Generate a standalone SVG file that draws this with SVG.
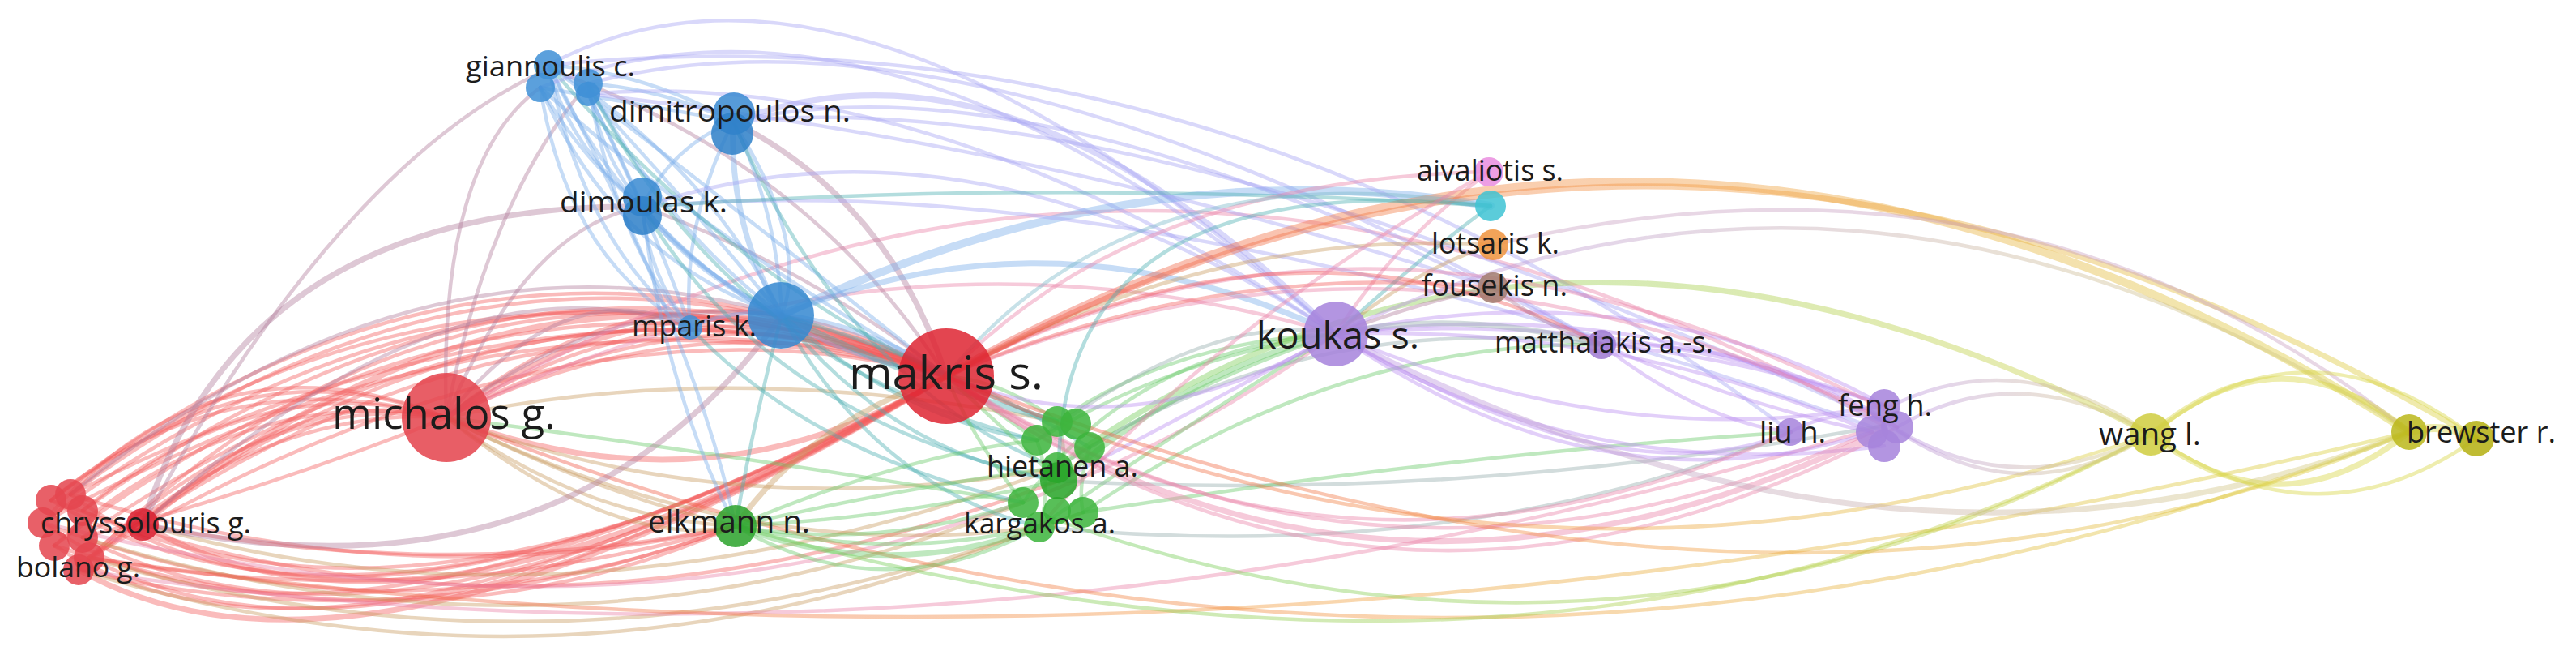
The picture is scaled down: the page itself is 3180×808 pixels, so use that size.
<svg xmlns="http://www.w3.org/2000/svg" width="3180" height="808" viewBox="0 0 3180 808">
<style>
.e{fill:none;stroke-linecap:round;stroke-opacity:.42;stroke-width:4.5}
.w3{stroke-width:7}.w4{stroke-width:10}
.r{stroke:#f25c5c}.b{stroke:#78acea}.g{stroke:#66c866}.p{stroke:#b98cf0}.y{stroke:#d6d43e}
.m{stroke:#b07c9c}.t{stroke:#4aaeb0}.o{stroke:#c89a60}.k{stroke:#ea80a8}.l{stroke:#a4a2f2}.gp{stroke:#94acac}
.n circle{fill-opacity:.86}
.lab{font-family:"Open Sans","DejaVu Sans",sans-serif;fill:#1c1c1c}
</style>
<defs>
<linearGradient id="gRY"><stop offset="0" stop-color="#f0504a"/><stop offset=".5" stop-color="#f29a3e"/><stop offset="1" stop-color="#d8d23a"/></linearGradient>
<linearGradient id="gGY"><stop offset="0" stop-color="#6acc58"/><stop offset="1" stop-color="#cfd040"/></linearGradient>
<linearGradient id="gPY"><stop offset="0" stop-color="#b88ee8"/><stop offset="1" stop-color="#d6cf70"/></linearGradient>
</defs>
<g id="connectors">
<path class="e r" d="M63 617Q600 200 1168 464"/>
<path class="e r" d="M87 610Q620 215 1168 464"/>
<path class="e r" d="M102 630Q650 235 1168 464"/>
<path class="e r" d="M53 645Q590 240 1168 464"/>
<path class="e r" d="M67 673Q610 265 1168 464"/>
<path class="e r" d="M102 663Q660 285 1168 464"/>
<path class="e r" d="M110 688Q640 305 1168 464"/>
<path class="e r" d="M97 703Q620 275 1168 464"/>
<path class="e r w3" d="M176 647Q660 250 1168 464"/>
<path class="e r" d="M63 617Q560 250 1168 464"/>
<path class="e r" d="M87 610Q700 300 1168 464"/>
<path class="e r" d="M53 645Q630 320 1168 464"/>
<path class="e r" d="M110 688Q700 340 1168 464"/>
<path class="e r" d="M97 703Q560 230 1168 464"/>
<path class="e r" d="M63 617Q280 440 551 515"/>
<path class="e r" d="M87 610Q300 420 551 515"/>
<path class="e r" d="M102 630Q320 450 551 515"/>
<path class="e r" d="M67 673Q300 470 551 515"/>
<path class="e r" d="M176 647Q360 470 551 515"/>
<path class="e r" d="M110 688Q330 480 551 515"/>
<path class="e r" d="M53 645Q260 400 551 515"/>
<path class="e r" d="M97 703Q320 500 551 515"/>
<path class="e r" d="M102 663Q340 600 551 515"/>
<path class="e m" d="M87 610Q520 260 965 389"/>
<path class="e m" d="M176 647Q560 300 852 404"/>
<path class="e m w3" d="M176 647Q300 250 793 255"/>
<path class="e m" d="M176 647Q420 200 677 85"/>
<path class="e r w3" d="M97 703Q450 900 1168 464"/>
<path class="e r" d="M110 688Q480 885 1168 464"/>
<path class="e r" d="M67 673Q420 900 1168 464"/>
<path class="e r" d="M102 663Q500 870 1168 464"/>
<path class="e r" d="M53 645Q400 885 1168 464"/>
<path class="e r w3" d="M176 647Q520 850 1168 464"/>
<path class="e r" d="M87 610Q440 870 1168 464"/>
<path class="e r" d="M63 617Q470 860 1168 464"/>
<path class="e r" d="M102 630Q540 830 1168 464"/>
<path class="e r" d="M97 703Q500 800 908 649"/>
<path class="e r" d="M110 688Q520 760 908 649"/>
<path class="e r" d="M176 647Q560 720 908 649"/>
<path class="e r" d="M53 645Q480 810 908 649"/>
<path class="e r" d="M67 673Q520 820 908 649"/>
<path class="e r" d="M87 610Q500 740 908 649"/>
<path class="e o" d="M97 703Q700 890 1283 650"/>
<path class="e o" d="M102 663Q700 850 1263 620"/>
<path class="e o" d="M176 647Q700 800 1305 577"/>
<path class="e r" d="M63 617Q650 840 1307 593"/>
<path class="e o" d="M110 688Q720 870 1337 632"/>
<path class="e k" d="M97 703Q1200 870 2325 525"/>
<path class="e k" d="M53 645Q1000 880 1649 412"/>
<path class="e" stroke="url(#gRY)" d="M110 688Q1500 890 2974 533"/>
<path class="e r w3" d="M551 515Q850 300 1168 464"/>
<path class="e r" d="M551 515Q860 320 1168 464"/>
<path class="e r" d="M551 515Q840 280 1168 464"/>
<path class="e r" d="M551 515Q880 340 1168 464"/>
<path class="e r" d="M551 515Q870 360 1168 464"/>
<path class="e r w3" d="M551 515Q880 640 1168 464"/>
<path class="e m" d="M551 515Q540 200 667 108"/>
<path class="e m" d="M551 515Q600 250 726 103"/>
<path class="e m" d="M551 515Q700 330 852 404"/>
<path class="e m" d="M551 515Q750 360 965 389"/>
<path class="e m" d="M551 515Q650 280 793 255"/>
<path class="e o" d="M551 515Q720 640 908 649"/>
<path class="e o" d="M551 515Q740 610 908 649"/>
<path class="e o" d="M551 515Q760 680 908 649"/>
<path class="e o" d="M551 515Q900 650 1305 577"/>
<path class="e o" d="M551 515Q920 700 1283 650"/>
<path class="e o" d="M551 515Q900 440 1305 520"/>
<path class="e g" d="M551 515Q900 560 1263 620"/>
<path class="e k" d="M551 515Q1400 0 2325 525"/>
<path class="e k" d="M551 515Q1100 250 1649 412"/>
<path class="e" stroke="url(#gRY)" d="M551 515Q1760 1000 2974 533"/>
<path class="e m w3" d="M905 150Q1100 250 1168 464"/>
<path class="e m" d="M793 255Q1000 330 1168 464"/>
<path class="e m" d="M677 85Q1000 200 1168 464"/>
<path class="e b w3" d="M965 389Q1070 400 1168 464"/>
<path class="e b" d="M677 80Q700 180 793 255"/>
<path class="e b" d="M667 108Q720 200 793 255"/>
<path class="e b" d="M726 103Q740 190 793 255"/>
<path class="e b" d="M726 116Q770 200 793 255"/>
<path class="e b" d="M677 80Q800 90 905 150"/>
<path class="e b" d="M726 103Q820 110 905 150"/>
<path class="e b" d="M667 108Q800 130 905 150"/>
<path class="e b" d="M677 80Q780 300 965 389"/>
<path class="e b" d="M667 108Q760 320 965 389"/>
<path class="e b" d="M726 103Q820 280 965 389"/>
<path class="e b" d="M726 116Q850 250 965 389"/>
<path class="e b" d="M677 80Q870 200 965 389"/>
<path class="e b" d="M677 80Q720 300 852 404"/>
<path class="e b" d="M667 108Q700 320 852 404"/>
<path class="e b" d="M726 103Q760 300 852 404"/>
<path class="e b" d="M726 116Q800 260 852 404"/>
<path class="e b w3" d="M905 150Q900 280 965 389"/>
<path class="e b" d="M905 150Q840 280 852 404"/>
<path class="e b" d="M905 150Q830 180 793 255"/>
<path class="e b w3" d="M793 255Q860 340 965 389"/>
<path class="e b" d="M793 255Q800 340 852 404"/>
<path class="e b" d="M905 150Q960 260 965 389"/>
<path class="e b" d="M905 150Q1000 300 965 389"/>
<path class="e b" d="M677 80Q900 250 1168 464"/>
<path class="e b" d="M667 108Q880 300 1168 464"/>
<path class="e b" d="M793 255Q950 430 1168 464"/>
<path class="e b" d="M852 404Q900 380 965 389"/>
<path class="e t w3" d="M965 389Q1150 480 1305 520"/>
<path class="e t" d="M965 389Q1120 520 1280 543"/>
<path class="e t" d="M965 389Q1100 560 1307 593"/>
<path class="e t" d="M965 389Q1080 600 1283 650"/>
<path class="e t" d="M965 389Q1180 450 1345 552"/>
<path class="e t" d="M852 404Q1000 560 1263 620"/>
<path class="e t" d="M905 150Q1050 480 1305 577"/>
<path class="e t" d="M793 255Q950 520 1307 593"/>
<path class="e t" d="M726 103Q900 450 1280 543"/>
<path class="e t" d="M677 80Q950 400 1305 520"/>
<path class="e t" d="M965 389Q930 520 908 649"/>
<path class="e b" d="M793 255Q820 480 908 649"/>
<path class="e b" d="M677 80Q860 420 908 649"/>
<path class="e m w3" d="M965 389Q700 760 176 647"/>
<path class="e l" d="M677 80Q1055 -120 1649 412"/>
<path class="e l" d="M667 108Q1100 -60 1649 412"/>
<path class="e l" d="M726 103Q1200 -20 1977 425"/>
<path class="e l w3" d="M905 150Q1250 20 1649 412"/>
<path class="e l" d="M905 150Q1300 60 1977 425"/>
<path class="e l" d="M793 255Q1200 120 1649 412"/>
<path class="e l" d="M726 116Q1150 80 1649 412"/>
<path class="e b w3" d="M965 389Q1300 250 1649 412"/>
<path class="e b w4" d="M965 389Q1400 180 1840 254"/>
<path class="e l" d="M905 150Q1400 100 2325 520"/>
<path class="e l" d="M677 80Q1500 0 2211 533"/>
<path class="e l" d="M726 116Q1300 180 1843 355"/>
<path class="e l" d="M793 255Q1400 200 2320 530"/>
<path class="e t" d="M793 255Q1300 220 1840 254"/>
<path class="e g w3" d="M908 649Q1100 720 1283 650"/>
<path class="e g" d="M908 649Q1080 680 1263 620"/>
<path class="e g" d="M908 649Q1100 640 1307 593"/>
<path class="e g" d="M908 649Q1120 600 1305 577"/>
<path class="e g" d="M908 649Q1150 700 1337 632"/>
<path class="e g" d="M908 649Q1100 760 1300 640"/>
<path class="e g" d="M908 649Q1120 560 1280 543"/>
<path class="e o w3" d="M908 649Q1000 520 1168 464"/>
<path class="e g" d="M1305 520Q1240 470 1168 464"/>
<path class="e g" d="M1280 543Q1220 500 1168 464"/>
<path class="e g" d="M1307 593Q1230 520 1168 464"/>
<path class="e g" d="M1263 620Q1200 540 1168 464"/>
<path class="e g" d="M1305 520Q1450 420 1649 412"/>
<path class="e g" d="M1280 543Q1450 440 1649 412"/>
<path class="e g w3" d="M1307 593Q1480 450 1649 412"/>
<path class="e g" d="M1345 552Q1500 460 1649 412"/>
<path class="e g" d="M1263 620Q1400 430 1649 412"/>
<path class="e g" d="M1283 650Q1500 500 1649 412"/>
<path class="e gp" d="M1305 577Q1600 380 1977 425"/>
<path class="e g" d="M1337 632Q1650 420 1977 425"/>
<path class="e gp" d="M1280 543Q1500 380 1649 412"/>
<path class="e w3" stroke="url(#gGY)" d="M1300 580Q1900 140 2655 536"/>
<path class="e gp" d="M1307 593Q1800 620 2325 525"/>
<path class="e gp" d="M1283 650Q1800 700 2211 533"/>
<path class="e g" d="M1337 632Q1800 560 2211 533"/>
<path class="e" stroke="url(#gGY)" d="M908 649Q1900 930 2655 536"/>
<path class="e" stroke="url(#gGY)" d="M1300 640Q2000 890 2655 536"/>
<path class="e g" d="M1305 520Q1320 560 1307 593"/>
<path class="e g" d="M1280 543Q1300 600 1283 650"/>
<path class="e g" d="M1345 552Q1330 600 1337 632"/>
<path class="e p" d="M1649 412Q2000 380 2326 500"/>
<path class="e p" d="M1649 412Q2000 400 2311 533"/>
<path class="e p" d="M1649 412Q2050 360 2342 527"/>
<path class="e p" d="M1649 412Q2020 330 2326 500"/>
<path class="e p" d="M1649 412Q1950 600 2326 550"/>
<path class="e p" d="M1649 412Q2000 620 2210 533"/>
<path class="e p" d="M1649 412Q2000 560 2326 500"/>
<path class="e p" d="M1649 412Q1980 640 2311 533"/>
<path class="e gp w3" d="M1649 412Q1800 380 1977 425"/>
<path class="e p" d="M1977 425Q2150 440 2326 500"/>
<path class="e p" d="M1977 425Q2150 500 2311 533"/>
<path class="e p" d="M1977 425Q2100 520 2210 533"/>
<path class="e p" d="M1977 425Q2180 420 2342 527"/>
<path class="e p" d="M1649 412Q1400 560 1168 464"/>
<path class="e p" d="M1649 412Q1450 520 1307 593"/>
<path class="e k" d="M1649 412Q1720 300 1838 212"/>
<path class="e t" d="M1649 412Q1750 320 1840 254"/>
<path class="e o" d="M1649 412Q1750 330 1843 302"/>
<path class="e m" d="M1649 412Q1760 370 1843 355"/>
<path class="e p" d="M2210 533Q2270 500 2326 520"/>
<path class="e k w3" d="M1168 464Q1700 835 2326 530"/>
<path class="e k" d="M1168 464Q1700 800 2311 533"/>
<path class="e k" d="M1168 464Q1650 780 2210 533"/>
<path class="e k" d="M1168 464Q1720 860 2342 527"/>
<path class="e k" d="M1168 464Q1700 180 2326 505"/>
<path class="e k" d="M1168 464Q1750 220 2342 527"/>
<path class="e r" d="M1168 464Q1600 230 1977 425"/>
<path class="e o" d="M1168 464Q1500 280 1843 302"/>
<path class="e r" d="M1168 464Q1500 320 1843 355"/>
<path class="e k" d="M1168 464Q1400 220 1838 212"/>
<path class="e w4" stroke="url(#gRY)" d="M1168 464Q2071 -48 2974 533"/>
<path class="e w3" stroke="url(#gRY)" d="M1168 464Q2080 -40 3057 541"/>
<path class="e" stroke="url(#gRY)" d="M1168 464Q1900 800 2655 536"/>
<path class="e" stroke="url(#gRY)" d="M1168 464Q2200 862 2974 533"/>
<path class="e w3" stroke="url(#gPY)" d="M1649 412Q2350 780 2974 533"/>
<path class="e" stroke="url(#gPY)" d="M1649 412Q2300 100 2974 533"/>
<path class="e" stroke="#c8a0c0" d="M1843 302Q2500 150 2974 533"/>
<path class="e m" d="M1843 355Q1900 400 1977 425"/>
<path class="e" stroke="#7ab8c8" d="M1840 254Q1400 180 1168 464"/>
<path class="e t" d="M1840 254Q1300 200 1307 593"/>
<path class="e k" d="M1838 212Q1500 400 1283 650"/>
<path class="e y w3" d="M2655 536Q2815 400 2974 533"/>
<path class="e y w3" d="M2655 536Q2815 660 2974 533"/>
<path class="e y" d="M2655 536Q2850 380 3057 541"/>
<path class="e y" d="M2655 536Q2860 680 3057 541"/>
<path class="e y w4" d="M2974 533Q3015 520 3057 541"/>
<path class="e" stroke="url(#gPY)" d="M2326 505Q2490 420 2655 536"/>
<path class="e" stroke="url(#gPY)" d="M2342 527Q2490 440 2655 536"/>
<path class="e" stroke="url(#gPY)" d="M2326 520Q2490 640 2655 536"/>
<path class="e" stroke="url(#gPY)" d="M2342 530Q2490 620 2655 536"/>
</g>
<g id="nodes" class="n">
<g id="n-r1"><circle cx="63" cy="617" r="19" fill="#e4464f"/></g>
<g id="n-r2"><circle cx="87" cy="610" r="19" fill="#e4464f"/></g>
<g id="n-r3"><circle cx="102" cy="630" r="19" fill="#e4464f"/></g>
<g id="n-r4"><circle cx="53" cy="645" r="19" fill="#e4464f"/></g>
<g id="n-r5"><circle cx="67" cy="673" r="19" fill="#e4464f"/></g>
<g id="n-r6"><circle cx="102" cy="663" r="19" fill="#e4464f"/></g>
<g id="n-r7"><circle cx="110" cy="688" r="19" fill="#e4464f"/></g>
<g id="n-bolano"><circle cx="97" cy="703" r="19" fill="#e4464f"/><text class="lab" x="20" y="712" font-size="35" textLength="153" lengthAdjust="spacingAndGlyphs">bolano g.</text></g>
<g id="n-chryssolouris"><circle cx="176" cy="647" r="20" fill="#d82030"/><text class="lab" x="50" y="658" font-size="36" textLength="260" lengthAdjust="spacingAndGlyphs">chryssolouris g.</text></g>
<g id="n-michalos"><circle cx="551" cy="515" r="55" fill="#e4434d"/><text class="lab" x="410" y="529" font-size="53" textLength="276" lengthAdjust="spacingAndGlyphs">michalos g.</text></g>
<g id="n-makris"><circle cx="1168" cy="464" r="59" fill="#de2633"/><text class="lab" x="1048" y="480" font-size="57" textLength="240" lengthAdjust="spacingAndGlyphs">makris s.</text></g>
<g id="n-gi1"><circle cx="677" cy="80" r="18" fill="#4090d6"/></g>
<g id="n-gi2"><circle cx="667" cy="108" r="18" fill="#4090d6"/></g>
<g id="n-gi3"><circle cx="726" cy="103" r="18" fill="#4090d6"/></g>
<g id="n-giannoulis"><circle cx="726" cy="116" r="15" fill="#4090d6"/><text class="lab" x="575" y="94" font-size="34" textLength="209" lengthAdjust="spacingAndGlyphs">giannoulis c.</text></g>
<g id="n-dimitropoulos"><circle cx="906" cy="140" r="26" fill="#3a8ad2"/><circle cx="904" cy="165" r="26" fill="#2f80c8"/><text class="lab" x="752" y="150" font-size="36" textLength="298" lengthAdjust="spacingAndGlyphs">dimitropoulos n.</text></g>
<g id="n-dimoulas"><circle cx="793" cy="243" r="24" fill="#3a8ad2"/><circle cx="793" cy="266" r="24" fill="#2f80c8"/><text class="lab" x="691" y="262" font-size="37" textLength="207" lengthAdjust="spacingAndGlyphs">dimoulas k.</text></g>
<g id="n-blue-big"><circle cx="964" cy="389" r="41" fill="#3588d0"/></g>
<g id="n-mparis"><circle cx="852" cy="404" r="15" fill="#4090d6"/><text class="lab" x="780" y="415" font-size="36" textLength="154" lengthAdjust="spacingAndGlyphs">mparis k.</text></g>
<g id="n-elkmann"><circle cx="908" cy="649" r="26" fill="#2ca32c"/><text class="lab" x="800" y="657" font-size="38" textLength="200" lengthAdjust="spacingAndGlyphs">elkmann n.</text></g>
<g id="n-h1"><circle cx="1305" cy="520" r="19" fill="#3cb43c"/></g>
<g id="n-h2"><circle cx="1328" cy="523" r="19" fill="#3cb43c"/></g>
<g id="n-h3"><circle cx="1280" cy="543" r="19" fill="#3cb43c"/></g>
<g id="n-h4"><circle cx="1345" cy="552" r="19" fill="#3cb43c"/></g>
<g id="n-h5"><circle cx="1305" cy="577" r="19" fill="#3cb43c"/></g>
<g id="n-h7"><circle cx="1263" cy="620" r="19" fill="#3cb43c"/></g>
<g id="n-h8"><circle cx="1337" cy="632" r="19" fill="#3cb43c"/></g>
<g id="n-h9"><circle cx="1283" cy="650" r="19" fill="#3cb43c"/></g>
<g id="n-h10"><circle cx="1305" cy="630" r="17" fill="#3cb43c"/></g>
<g id="n-hietanen"><circle cx="1307" cy="593" r="23" fill="#28a428"/><text class="lab" x="1218" y="588" font-size="36" textLength="187" lengthAdjust="spacingAndGlyphs">hietanen a.</text></g>
<g id="n-kargakos"><text class="lab" x="1190" y="658" font-size="35" textLength="187" lengthAdjust="spacingAndGlyphs">kargakos a.</text></g>
<g id="n-koukas"><circle cx="1649" cy="412" r="40" fill="#a683dc"/><text class="lab" x="1551" y="430" font-size="46" textLength="201" lengthAdjust="spacingAndGlyphs">koukas s.</text></g>
<g id="n-aivaliotis"><circle cx="1838" cy="212" r="18" fill="#ea8ee0"/><text class="lab" x="1749" y="223" font-size="36" textLength="181" lengthAdjust="spacingAndGlyphs">aivaliotis s.</text></g>
<g id="n-cyan"><circle cx="1840" cy="254" r="19" fill="#40c4d4"/></g>
<g id="n-lotsaris"><circle cx="1843" cy="302" r="19" fill="#f0943e"/><text class="lab" x="1767" y="313" font-size="36" textLength="158" lengthAdjust="spacingAndGlyphs">lotsaris k.</text></g>
<g id="n-fousekis"><circle cx="1843" cy="355" r="19" fill="#a27c70"/><text class="lab" x="1755" y="365" font-size="36" textLength="180" lengthAdjust="spacingAndGlyphs">fousekis n.</text></g>
<g id="n-matthaiakis"><circle cx="1977" cy="425" r="18" fill="#9e7ad2"/><text class="lab" x="1845" y="435" font-size="36" textLength="270" lengthAdjust="spacingAndGlyphs">matthaiakis a.-s.</text></g>
<g id="n-liu"><circle cx="2210" cy="533" r="17" fill="#a683dc"/><text class="lab" x="2172" y="546" font-size="36" textLength="82" lengthAdjust="spacingAndGlyphs">liu h.</text></g>
<g id="n-fe1"><circle cx="2326" cy="500" r="20" fill="#a683dc"/></g>
<g id="n-fe2"><circle cx="2342" cy="527" r="20" fill="#a683dc"/></g>
<g id="n-fe3"><circle cx="2311" cy="533" r="20" fill="#a683dc"/></g>
<g id="n-feng"><circle cx="2326" cy="550" r="20" fill="#a683dc"/><text class="lab" x="2269" y="513" font-size="36" textLength="116" lengthAdjust="spacingAndGlyphs">feng h.</text></g>
<g id="n-wang"><circle cx="2655" cy="536" r="26" fill="#cfcd40"/><text class="lab" x="2591" y="549" font-size="38" textLength="126" lengthAdjust="spacingAndGlyphs">wang l.</text></g>
<g id="n-br1"><circle cx="2974" cy="533" r="22" fill="#bcb81c"/></g>
<g id="n-brewster"><circle cx="3057" cy="541" r="22" fill="#b5b012"/><text class="lab" x="2971" y="546" font-size="36" textLength="184" lengthAdjust="spacingAndGlyphs">brewster r.</text></g>
</g>
</svg>
